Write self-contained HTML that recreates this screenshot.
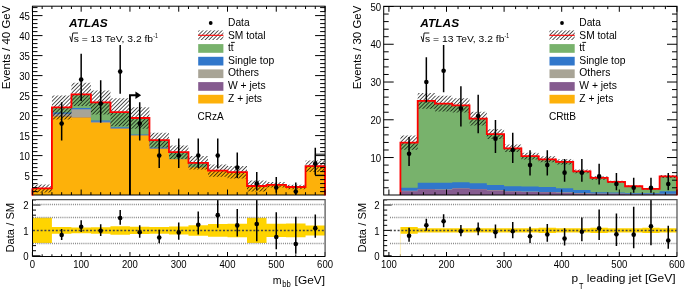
<!DOCTYPE html><html><head><meta charset="utf-8"><style>html,body{margin:0;padding:0;background:#fff;width:685px;height:292px;overflow:hidden}svg{display:block;will-change:transform}text{font-family:"Liberation Sans",sans-serif;fill:#000}</style></head><body>
<svg width="685" height="292" viewBox="0 0 685 292">
<defs><pattern id="hatch" patternUnits="userSpaceOnUse" width="2.7" height="2.7" patternTransform="rotate(45)"><line x1="0" y1="-1" x2="0" y2="4" stroke="#000" stroke-width="1.3"/></pattern></defs>
<rect width="685" height="292" fill="#fff"/>
<clipPath id="cl"><rect x="32.5" y="6.2" width="292.6" height="188.8"/></clipPath>
<clipPath id="clr"><rect x="32.5" y="199.6" width="292.6" height="56.9"/></clipPath>
<g clip-path="url(#cl)">
<path d="M32.4 195.6L32.4 188.4L51.91 188.4L51.91 107.4L71.42 107.4L71.42 94.4L90.93 94.4L90.93 102.4L110.44 102.4L110.44 112.2L129.95 112.2L129.95 118L149.46 118L149.46 140.2L168.97 140.2L168.97 152.2L188.48 152.2L188.48 162.8L207.99 162.8L207.99 170.6L227.5 170.6L227.5 172.2L247.01 172.2L247.01 186L266.52 186L266.52 184.8L286.03 184.8L286.03 187L305.54 187L305.54 166.2L325.05 166.2L325.05 195.6L305.54 195.6L305.54 195.6L286.03 195.6L286.03 195.6L266.52 195.6L266.52 195.6L247.01 195.6L247.01 195.6L227.5 195.6L227.5 195.6L207.99 195.6L207.99 195.6L188.48 195.6L188.48 195.6L168.97 195.6L168.97 195.6L149.46 195.6L149.46 195.6L129.95 195.6L129.95 195.6L110.44 195.6L110.44 195.6L90.93 195.6L90.93 195.6L71.42 195.6L71.42 195.6L51.91 195.6L51.91 195.6L32.4 195.6Z" fill="#78B26C"/>
<path d="M32.4 195.6L32.4 188.4L51.91 188.4L51.91 112.4L71.42 112.4L71.42 108L90.93 108L90.93 120.6L110.44 120.6L110.44 127.2L129.95 127.2L129.95 134.4L149.46 134.4L149.46 147.6L168.97 147.6L168.97 159L188.48 159L188.48 167L207.99 167L207.99 170.8L227.5 170.8L227.5 172.2L247.01 172.2L247.01 186L266.52 186L266.52 184.8L286.03 184.8L286.03 187L305.54 187L305.54 166.2L325.05 166.2L325.05 195.6L305.54 195.6L305.54 195.6L286.03 195.6L286.03 195.6L266.52 195.6L266.52 195.6L247.01 195.6L247.01 195.6L227.5 195.6L227.5 195.6L207.99 195.6L207.99 195.6L188.48 195.6L188.48 195.6L168.97 195.6L168.97 195.6L149.46 195.6L149.46 195.6L129.95 195.6L129.95 195.6L110.44 195.6L110.44 195.6L90.93 195.6L90.93 195.6L71.42 195.6L71.42 195.6L51.91 195.6L51.91 195.6L32.4 195.6Z" fill="#3177CB"/>
<path d="M32.4 195.6L32.4 188.4L51.91 188.4L51.91 113.8L71.42 113.8L71.42 109.2L90.93 109.2L90.93 121.8L110.44 121.8L110.44 128.6L129.95 128.6L129.95 135.6L149.46 135.6L149.46 148.8L168.97 148.8L168.97 159.2L188.48 159.2L188.48 167.2L207.99 167.2L207.99 170.8L227.5 170.8L227.5 172.2L247.01 172.2L247.01 186L266.52 186L266.52 184.8L286.03 184.8L286.03 187L305.54 187L305.54 166.2L325.05 166.2L325.05 195.6L305.54 195.6L305.54 195.6L286.03 195.6L286.03 195.6L266.52 195.6L266.52 195.6L247.01 195.6L247.01 195.6L227.5 195.6L227.5 195.6L207.99 195.6L207.99 195.6L188.48 195.6L188.48 195.6L168.97 195.6L168.97 195.6L149.46 195.6L149.46 195.6L129.95 195.6L129.95 195.6L110.44 195.6L110.44 195.6L90.93 195.6L90.93 195.6L71.42 195.6L71.42 195.6L51.91 195.6L51.91 195.6L32.4 195.6Z" fill="#A8A496"/>
<path d="M32.4 195.6L32.4 188.4L51.91 188.4L51.91 116.4L71.42 116.4L71.42 117.6L90.93 117.6L90.93 122.8L110.44 122.8L110.44 128.8L129.95 128.8L129.95 135.6L149.46 135.6L149.46 148.8L168.97 148.8L168.97 159.2L188.48 159.2L188.48 167.2L207.99 167.2L207.99 170.8L227.5 170.8L227.5 172.2L247.01 172.2L247.01 186L266.52 186L266.52 184.8L286.03 184.8L286.03 187L305.54 187L305.54 166.2L325.05 166.2L325.05 195.6L305.54 195.6L305.54 195.6L286.03 195.6L286.03 195.6L266.52 195.6L266.52 195.6L247.01 195.6L247.01 195.6L227.5 195.6L227.5 195.6L207.99 195.6L207.99 195.6L188.48 195.6L188.48 195.6L168.97 195.6L168.97 195.6L149.46 195.6L149.46 195.6L129.95 195.6L129.95 195.6L110.44 195.6L110.44 195.6L90.93 195.6L90.93 195.6L71.42 195.6L71.42 195.6L51.91 195.6L51.91 195.6L32.4 195.6Z" fill="#855B8F"/>
<path d="M32.4 195.6L32.4 188.4L51.91 188.4L51.91 116.4L71.42 116.4L71.42 117.6L90.93 117.6L90.93 122.8L110.44 122.8L110.44 128.8L129.95 128.8L129.95 135.6L149.46 135.6L149.46 148.8L168.97 148.8L168.97 159.2L188.48 159.2L188.48 167.2L207.99 167.2L207.99 170.8L227.5 170.8L227.5 172.2L247.01 172.2L247.01 186L266.52 186L266.52 184.8L286.03 184.8L286.03 187L305.54 187L305.54 166.2L325.05 166.2L325.05 195.6L305.54 195.6L305.54 195.6L286.03 195.6L286.03 195.6L266.52 195.6L266.52 195.6L247.01 195.6L247.01 195.6L227.5 195.6L227.5 195.6L207.99 195.6L207.99 195.6L188.48 195.6L188.48 195.6L168.97 195.6L168.97 195.6L149.46 195.6L149.46 195.6L129.95 195.6L129.95 195.6L110.44 195.6L110.44 195.6L90.93 195.6L90.93 195.6L71.42 195.6L71.42 195.6L51.91 195.6L51.91 195.6L32.4 195.6Z" fill="#FDB10A"/>
<path d="M32.4 192.4L32.4 184.4L51.91 184.4L51.91 95.4L71.42 95.4L71.42 82.8L90.93 82.8L90.93 90.4L110.44 90.4L110.44 98.2L129.95 98.2L129.95 107.2L149.46 107.2L149.46 132.8L168.97 132.8L168.97 145.4L188.48 145.4L188.48 156L207.99 156L207.99 164.4L227.5 164.4L227.5 166L247.01 166L247.01 180.6L266.52 180.6L266.52 182L286.03 182L286.03 184.68L305.54 184.68L305.54 160.4L325.05 160.4L325.05 172L305.54 172L305.54 189.32L286.03 189.32L286.03 187.6L266.52 187.6L266.52 191.4L247.01 191.4L247.01 178.4L227.5 178.4L227.5 176.8L207.99 176.8L207.99 169.6L188.48 169.6L188.48 159L168.97 159L168.97 147.6L149.46 147.6L149.46 128.8L129.95 128.8L129.95 126.2L110.44 126.2L110.44 114.4L90.93 114.4L90.93 106L71.42 106L71.42 119.4L51.91 119.4L51.91 192.4L32.4 192.4Z" fill="url(#hatch)"/>
<polyline points="32.4,195.6 32.4,188.4 51.91,188.4 51.91,107.4 71.42,107.4 71.42,94.4 90.93,94.4 90.93,102.4 110.44,102.4 110.44,112.2 129.95,112.2 129.95,118 149.46,118 149.46,140.2 168.97,140.2 168.97,152.2 188.48,152.2 188.48,162.8 207.99,162.8 207.99,170.6 227.5,170.6 227.5,172.2 247.01,172.2 247.01,186 266.52,186 266.52,184.8 286.03,184.8 286.03,187 305.54,187 305.54,166.2 325.05,166.2 325.05,195.6" fill="none" stroke="#FF0000" stroke-width="1.8"/>
<path d="M129.95 195 V95.3 H136.45" stroke="#000" stroke-width="1.9" fill="none"/>
<path d="M135.45 91.6 L141.15 95.3 L135.45 99 Z" fill="#000"/>
<path d="M325 154.2 H315.4 V175.2 H325" stroke="#000" stroke-width="0.9" fill="none"/>
<line x1="61.66" y1="102.32" x2="61.66" y2="140.41" stroke="#000" stroke-width="1.5"/>
<circle cx="61.66" cy="123.6" r="2.3" fill="#000"/>
<line x1="81.17" y1="53.81" x2="81.17" y2="101.02" stroke="#000" stroke-width="1.5"/>
<circle cx="81.17" cy="79.6" r="2.3" fill="#000"/>
<line x1="100.69" y1="80.14" x2="100.69" y2="122.64" stroke="#000" stroke-width="1.5"/>
<circle cx="100.69" cy="103.6" r="2.3" fill="#000"/>
<line x1="120.19" y1="45.09" x2="120.19" y2="93.75" stroke="#000" stroke-width="1.5"/>
<circle cx="120.19" cy="71.6" r="2.3" fill="#000"/>
<line x1="139.71" y1="102.32" x2="139.71" y2="140.41" stroke="#000" stroke-width="1.5"/>
<circle cx="139.71" cy="123.6" r="2.3" fill="#000"/>
<line x1="159.22" y1="138.53" x2="159.22" y2="168.03" stroke="#000" stroke-width="1.5"/>
<circle cx="159.22" cy="155.6" r="2.3" fill="#000"/>
<line x1="178.73" y1="138.53" x2="178.73" y2="168.03" stroke="#000" stroke-width="1.5"/>
<circle cx="178.73" cy="155.6" r="2.3" fill="#000"/>
<line x1="198.24" y1="138.53" x2="198.24" y2="168.03" stroke="#000" stroke-width="1.5"/>
<circle cx="198.24" cy="155.6" r="2.3" fill="#000"/>
<line x1="217.75" y1="138.53" x2="217.75" y2="168.03" stroke="#000" stroke-width="1.5"/>
<circle cx="217.75" cy="155.6" r="2.3" fill="#000"/>
<line x1="237.26" y1="152.52" x2="237.26" y2="177.93" stroke="#000" stroke-width="1.5"/>
<circle cx="237.26" cy="167.6" r="2.3" fill="#000"/>
<line x1="256.76" y1="171.93" x2="256.76" y2="190.13" stroke="#000" stroke-width="1.5"/>
<circle cx="256.76" cy="183.6" r="2.3" fill="#000"/>
<line x1="276.27" y1="177.05" x2="276.27" y2="192.77" stroke="#000" stroke-width="1.5"/>
<circle cx="276.27" cy="187.6" r="2.3" fill="#000"/>
<line x1="295.78" y1="182.4" x2="295.78" y2="194.91" stroke="#000" stroke-width="1.5"/>
<circle cx="295.78" cy="191.6" r="2.3" fill="#000"/>
<line x1="315.29" y1="147.82" x2="315.29" y2="174.67" stroke="#000" stroke-width="1.5"/>
<circle cx="315.29" cy="163.6" r="2.3" fill="#000"/>
</g>
<rect x="32.5" y="6.2" width="292.6" height="188.8" fill="none" stroke="#000" stroke-width="1"/>
<polyline points="32.4,195.6 32.4,188.4" fill="none" stroke="#FF0000" stroke-width="1.8"/>
<polyline points="325.05,166.2 325.05,195.6" fill="none" stroke="#FF0000" stroke-width="1.6"/>
<path d="M32.5 191.6h5 M325.1 191.6h-5 M32.5 187.6h5 M325.1 187.6h-5 M32.5 183.6h5 M325.1 183.6h-5 M32.5 179.6h5 M325.1 179.6h-5 M32.5 175.6h10 M325.1 175.6h-10 M32.5 171.6h5 M325.1 171.6h-5 M32.5 167.6h5 M325.1 167.6h-5 M32.5 163.6h5 M325.1 163.6h-5 M32.5 159.6h5 M325.1 159.6h-5 M32.5 155.6h10 M325.1 155.6h-10 M32.5 151.6h5 M325.1 151.6h-5 M32.5 147.6h5 M325.1 147.6h-5 M32.5 143.6h5 M325.1 143.6h-5 M32.5 139.6h5 M325.1 139.6h-5 M32.5 135.6h10 M325.1 135.6h-10 M32.5 131.6h5 M325.1 131.6h-5 M32.5 127.6h5 M325.1 127.6h-5 M32.5 123.6h5 M325.1 123.6h-5 M32.5 119.6h5 M325.1 119.6h-5 M32.5 115.6h10 M325.1 115.6h-10 M32.5 111.6h5 M325.1 111.6h-5 M32.5 107.6h5 M325.1 107.6h-5 M32.5 103.6h5 M325.1 103.6h-5 M32.5 99.6h5 M325.1 99.6h-5 M32.5 95.6h10 M325.1 95.6h-10 M32.5 91.6h5 M325.1 91.6h-5 M32.5 87.6h5 M325.1 87.6h-5 M32.5 83.6h5 M325.1 83.6h-5 M32.5 79.6h5 M325.1 79.6h-5 M32.5 75.6h10 M325.1 75.6h-10 M32.5 71.6h5 M325.1 71.6h-5 M32.5 67.6h5 M325.1 67.6h-5 M32.5 63.6h5 M325.1 63.6h-5 M32.5 59.6h5 M325.1 59.6h-5 M32.5 55.6h10 M325.1 55.6h-10 M32.5 51.6h5 M325.1 51.6h-5 M32.5 47.6h5 M325.1 47.6h-5 M32.5 43.6h5 M325.1 43.6h-5 M32.5 39.6h5 M325.1 39.6h-5 M32.5 35.6h10 M325.1 35.6h-10 M32.5 31.6h5 M325.1 31.6h-5 M32.5 27.6h5 M325.1 27.6h-5 M32.5 23.6h5 M325.1 23.6h-5 M32.5 19.6h5 M325.1 19.6h-5 M32.5 15.6h10 M325.1 15.6h-10 M32.5 11.6h5 M325.1 11.6h-5 M32.5 7.6h5 M325.1 7.6h-5 M32.4 195v-5.5 M32.4 6.2v5.5 M32.4 256.5v-4.5 M42.16 195v-2.8 M42.16 6.2v2.8 M42.16 256.5v-2.2 M51.91 195v-2.8 M51.91 6.2v2.8 M51.91 256.5v-2.2 M61.66 195v-2.8 M61.66 6.2v2.8 M61.66 256.5v-2.2 M71.42 195v-2.8 M71.42 6.2v2.8 M71.42 256.5v-2.2 M81.17 195v-5.5 M81.17 6.2v5.5 M81.17 256.5v-4.5 M90.93 195v-2.8 M90.93 6.2v2.8 M90.93 256.5v-2.2 M100.69 195v-2.8 M100.69 6.2v2.8 M100.69 256.5v-2.2 M110.44 195v-2.8 M110.44 6.2v2.8 M110.44 256.5v-2.2 M120.19 195v-2.8 M120.19 6.2v2.8 M120.19 256.5v-2.2 M129.95 195v-5.5 M129.95 6.2v5.5 M129.95 256.5v-4.5 M139.71 195v-2.8 M139.71 6.2v2.8 M139.71 256.5v-2.2 M149.46 195v-2.8 M149.46 6.2v2.8 M149.46 256.5v-2.2 M159.22 195v-2.8 M159.22 6.2v2.8 M159.22 256.5v-2.2 M168.97 195v-2.8 M168.97 6.2v2.8 M168.97 256.5v-2.2 M178.73 195v-5.5 M178.73 6.2v5.5 M178.73 256.5v-4.5 M188.48 195v-2.8 M188.48 6.2v2.8 M188.48 256.5v-2.2 M198.24 195v-2.8 M198.24 6.2v2.8 M198.24 256.5v-2.2 M207.99 195v-2.8 M207.99 6.2v2.8 M207.99 256.5v-2.2 M217.75 195v-2.8 M217.75 6.2v2.8 M217.75 256.5v-2.2 M227.5 195v-5.5 M227.5 6.2v5.5 M227.5 256.5v-4.5 M237.26 195v-2.8 M237.26 6.2v2.8 M237.26 256.5v-2.2 M247.01 195v-2.8 M247.01 6.2v2.8 M247.01 256.5v-2.2 M256.76 195v-2.8 M256.76 6.2v2.8 M256.76 256.5v-2.2 M266.52 195v-2.8 M266.52 6.2v2.8 M266.52 256.5v-2.2 M276.27 195v-5.5 M276.27 6.2v5.5 M276.27 256.5v-4.5 M286.03 195v-2.8 M286.03 6.2v2.8 M286.03 256.5v-2.2 M295.78 195v-2.8 M295.78 6.2v2.8 M295.78 256.5v-2.2 M305.54 195v-2.8 M305.54 6.2v2.8 M305.54 256.5v-2.2 M315.29 195v-2.8 M315.29 6.2v2.8 M315.29 256.5v-2.2 M325.05 195v-5.5 M325.05 6.2v5.5 M325.05 256.5v-4.5 M32.5 255.8h8 M32.5 250.72h3.5 M32.5 245.64h3.5 M32.5 240.56h3.5 M32.5 235.48h3.5 M32.5 230.4h8 M32.5 225.32h3.5 M32.5 220.24h3.5 M32.5 215.16h3.5 M32.5 210.08h3.5 M32.5 205h8 M32.5 199.92h3.5" stroke="#000" stroke-width="1" fill="none"/>
<text x="29.9" y="179.7" font-size="10" text-anchor="end" textLength="5.35" lengthAdjust="spacingAndGlyphs">5</text>
<text x="29.9" y="159.7" font-size="10" text-anchor="end" textLength="10.7" lengthAdjust="spacingAndGlyphs">10</text>
<text x="29.9" y="139.7" font-size="10" text-anchor="end" textLength="10.7" lengthAdjust="spacingAndGlyphs">15</text>
<text x="29.9" y="119.7" font-size="10" text-anchor="end" textLength="10.7" lengthAdjust="spacingAndGlyphs">20</text>
<text x="29.9" y="99.7" font-size="10" text-anchor="end" textLength="10.7" lengthAdjust="spacingAndGlyphs">25</text>
<text x="29.9" y="79.7" font-size="10" text-anchor="end" textLength="10.7" lengthAdjust="spacingAndGlyphs">30</text>
<text x="29.9" y="59.7" font-size="10" text-anchor="end" textLength="10.7" lengthAdjust="spacingAndGlyphs">35</text>
<text x="29.9" y="39.7" font-size="10" text-anchor="end" textLength="10.7" lengthAdjust="spacingAndGlyphs">40</text>
<text x="29.9" y="19.7" font-size="10" text-anchor="end" textLength="10.7" lengthAdjust="spacingAndGlyphs">45</text>
<g clip-path="url(#clr)">
<path d="M32.4 243.1L32.4 217.7L51.91 217.7L51.91 226.94L71.42 226.94L71.42 227.49L90.93 227.49L90.93 227.13L110.44 227.13L110.44 226.14L129.95 226.14L129.95 226.86L149.46 226.86L149.46 227.01L168.97 227.01L168.97 226.42L188.48 226.42L188.48 225.13L207.99 225.13L207.99 224.1L227.5 224.1L227.5 223.67L247.01 223.67L247.01 217.7L266.52 217.7L266.52 223.81L286.03 223.81L286.03 223.55L305.54 223.55L305.54 225.39L325.05 225.39L325.05 235.41L305.54 235.41L305.54 237.25L286.03 237.25L286.03 236.99L266.52 236.99L266.52 243.1L247.01 243.1L247.01 237.13L227.5 237.13L227.5 236.7L207.99 236.7L207.99 235.67L188.48 235.67L188.48 234.38L168.97 234.38L168.97 233.79L149.46 233.79L149.46 233.94L129.95 233.94L129.95 234.66L110.44 234.66L110.44 233.67L90.93 233.67L90.93 233.31L71.42 233.31L71.42 233.86L51.91 233.86L51.91 243.1L32.4 243.1Z" fill="#FFD400"/>
<line x1="33" y1="243.5" x2="325.1" y2="243.5" stroke="#8a8a8a" stroke-width="1.6" stroke-dasharray="1,1.1"/>
<line x1="33" y1="217.5" x2="325.1" y2="217.5" stroke="#8a8a8a" stroke-width="1.6" stroke-dasharray="1,1.1"/>
<line x1="33" y1="204.5" x2="325.1" y2="204.5" stroke="#8a8a8a" stroke-width="1.6" stroke-dasharray="1,1.1"/>
<line x1="33" y1="230.5" x2="325.1" y2="230.5" stroke="#444" stroke-width="1.3" stroke-dasharray="2,1.8"/>
<line x1="61.66" y1="228.94" x2="61.66" y2="239.91" stroke="#000" stroke-width="1.5"/>
<circle cx="61.66" cy="235.07" r="2.3" fill="#000"/>
<line x1="81.17" y1="220.21" x2="81.17" y2="232.06" stroke="#000" stroke-width="1.5"/>
<circle cx="81.17" cy="226.69" r="2.3" fill="#000"/>
<line x1="100.69" y1="224.33" x2="100.69" y2="235.92" stroke="#000" stroke-width="1.5"/>
<circle cx="100.69" cy="230.73" r="2.3" fill="#000"/>
<line x1="120.19" y1="209.96" x2="120.19" y2="224.78" stroke="#000" stroke-width="1.5"/>
<circle cx="120.19" cy="218.04" r="2.3" fill="#000"/>
<line x1="139.71" y1="225.27" x2="139.71" y2="237.74" stroke="#000" stroke-width="1.5"/>
<circle cx="139.71" cy="232.23" r="2.3" fill="#000"/>
<line x1="159.22" y1="229.64" x2="159.22" y2="243.16" stroke="#000" stroke-width="1.5"/>
<circle cx="159.22" cy="237.46" r="2.3" fill="#000"/>
<line x1="178.73" y1="222.4" x2="178.73" y2="239.67" stroke="#000" stroke-width="1.5"/>
<circle cx="178.73" cy="232.39" r="2.3" fill="#000"/>
<line x1="198.24" y1="211.61" x2="198.24" y2="234.45" stroke="#000" stroke-width="1.5"/>
<circle cx="198.24" cy="224.82" r="2.3" fill="#000"/>
<line x1="217.75" y1="197.82" x2="217.75" y2="227.79" stroke="#000" stroke-width="1.5"/>
<circle cx="217.75" cy="215.16" r="2.3" fill="#000"/>
<line x1="237.26" y1="209.04" x2="237.26" y2="236.62" stroke="#000" stroke-width="1.5"/>
<circle cx="237.26" cy="225.41" r="2.3" fill="#000"/>
<line x1="256.76" y1="193.17" x2="256.76" y2="241.33" stroke="#000" stroke-width="1.5"/>
<circle cx="256.76" cy="224.05" r="2.3" fill="#000"/>
<line x1="276.27" y1="212.17" x2="276.27" y2="249.14" stroke="#000" stroke-width="1.5"/>
<circle cx="276.27" cy="236.99" r="2.3" fill="#000"/>
<line x1="295.78" y1="216.82" x2="295.78" y2="253.76" stroke="#000" stroke-width="1.5"/>
<circle cx="295.78" cy="243.99" r="2.3" fill="#000"/>
<line x1="315.29" y1="214.52" x2="315.29" y2="237.72" stroke="#000" stroke-width="1.5"/>
<circle cx="315.29" cy="228.15" r="2.3" fill="#000"/>
</g>
<path d="M32.5 199.6H325.1V256.5" stroke="#5a5a5a" stroke-width="1.3" fill="none"/>
<path d="M32.5 199.6V256.5H325.1" stroke="#000" stroke-width="1" fill="none"/>
<text x="28.5" y="259.9" font-size="10" text-anchor="end" textLength="5.35" lengthAdjust="spacingAndGlyphs">0</text>
<text x="28.5" y="234.5" font-size="10" text-anchor="end" textLength="5.35" lengthAdjust="spacingAndGlyphs">1</text>
<text x="28.5" y="209.1" font-size="10" text-anchor="end" textLength="5.35" lengthAdjust="spacingAndGlyphs">2</text>
<text x="32.4" y="267.9" font-size="10" text-anchor="middle" textLength="5.3" lengthAdjust="spacingAndGlyphs">0</text>
<text x="81.17" y="267.9" font-size="10" text-anchor="middle" textLength="15.9" lengthAdjust="spacingAndGlyphs">100</text>
<text x="129.95" y="267.9" font-size="10" text-anchor="middle" textLength="15.9" lengthAdjust="spacingAndGlyphs">200</text>
<text x="178.73" y="267.9" font-size="10" text-anchor="middle" textLength="15.9" lengthAdjust="spacingAndGlyphs">300</text>
<text x="227.5" y="267.9" font-size="10" text-anchor="middle" textLength="15.9" lengthAdjust="spacingAndGlyphs">400</text>
<text x="276.27" y="267.9" font-size="10" text-anchor="middle" textLength="15.9" lengthAdjust="spacingAndGlyphs">500</text>
<text x="325.05" y="267.9" font-size="10" text-anchor="middle" textLength="15.9" lengthAdjust="spacingAndGlyphs">600</text>
<text x="10" y="89.2" font-size="11" textLength="83.6" lengthAdjust="spacingAndGlyphs" transform="rotate(-90 10 89.2)">Events / 40 GeV</text>
<text x="14.3" y="252.6" font-size="10.6" textLength="49.8" lengthAdjust="spacingAndGlyphs" transform="rotate(-90 14.3 252.6)">Data / SM</text>
<text x="69" y="27" font-size="10.2" textLength="38.8" lengthAdjust="spacingAndGlyphs" font-weight="bold" font-style="italic">ATLAS</text>
<path d="M69.8 36.3 L71.7 41.9 L72.8 33 H78" stroke="#000" stroke-width="0.9" fill="none"/>
<text x="73.7" y="41.9" font-size="9.9" textLength="79.4" lengthAdjust="spacingAndGlyphs">s = 13 TeV, 3.2 fb</text>
<text x="153.3" y="37.8" font-size="6.8" textLength="4.6" lengthAdjust="spacingAndGlyphs">-1</text>
<circle cx="210.7" cy="23.0" r="1.9" fill="#000"/>
<text x="228" y="25.9" font-size="10.3" textLength="21.6" lengthAdjust="spacingAndGlyphs">Data</text>
<rect x="198.2" y="30.4" width="25.2" height="9.6" fill="url(#hatch)"/>
<line x1="198.2" y1="35.3" x2="223.4" y2="35.3" stroke="#FF0000" stroke-width="1.1"/>
<text x="228" y="38.7" font-size="10.3" textLength="37.6" lengthAdjust="spacingAndGlyphs">SM total</text>
<rect x="198.2" y="44.1" width="25.2" height="8.7" fill="#78B26C"/>
<text x="228" y="51.1" font-size="10.3" textLength="5.6" lengthAdjust="spacingAndGlyphs">tt</text>
<line x1="231" y1="42.4" x2="234.8" y2="42.4" stroke="#000" stroke-width="0.9"/>
<rect x="198.2" y="56.8" width="25.2" height="8.7" fill="#3177CB"/>
<text x="228" y="63.8" font-size="10.3" textLength="46.2" lengthAdjust="spacingAndGlyphs">Single top</text>
<rect x="198.2" y="69.4" width="25.2" height="8.7" fill="#A8A496"/>
<text x="228" y="76.4" font-size="10.3" textLength="31" lengthAdjust="spacingAndGlyphs">Others</text>
<rect x="198.2" y="82.1" width="25.2" height="8.7" fill="#855B8F"/>
<text x="228" y="89.1" font-size="10.3" textLength="37.6" lengthAdjust="spacingAndGlyphs">W + jets</text>
<rect x="198.2" y="94.8" width="25.2" height="8.7" fill="#FDB10A"/>
<text x="228" y="101.8" font-size="10.3" textLength="34" lengthAdjust="spacingAndGlyphs">Z + jets</text>
<text x="197.6" y="120.3" font-size="10.3" textLength="26.2" lengthAdjust="spacingAndGlyphs">CRzA</text>
<clipPath id="cr"><rect x="383.7" y="6.3" width="293.3" height="188.7"/></clipPath>
<clipPath id="crr"><rect x="383.7" y="199.6" width="293.3" height="56.9"/></clipPath>
<g clip-path="url(#cr)">
<path d="M400.42 195.3L400.42 142.59L417.7 142.59L417.7 100.9L434.98 100.9L434.98 103.69L452.26 103.69L452.26 105.43L469.54 105.43L469.54 118.65L486.82 118.65L486.82 134.13L504.1 134.13L504.1 148.29L521.38 148.29L521.38 156.03L538.66 156.03L538.66 159.31L555.94 159.31L555.94 161.88L573.22 161.88L573.22 171.32L590.5 171.32L590.5 177.93L607.78 177.93L607.78 181.9L625.06 181.9L625.06 186.24L642.34 186.24L642.34 188.81L659.62 188.81L659.62 176.42L676.9 176.42L676.9 195.3L659.62 195.3L659.62 195.3L642.34 195.3L642.34 195.3L625.06 195.3L625.06 195.3L607.78 195.3L607.78 195.3L590.5 195.3L590.5 195.3L573.22 195.3L573.22 195.3L555.94 195.3L555.94 195.3L538.66 195.3L538.66 195.3L521.38 195.3L521.38 195.3L504.1 195.3L504.1 195.3L486.82 195.3L486.82 195.3L469.54 195.3L469.54 195.3L452.26 195.3L452.26 195.3L434.98 195.3L434.98 195.3L417.7 195.3L417.7 195.3L400.42 195.3Z" fill="#78B26C"/>
<path d="M400.42 195.3L400.42 187.75L417.7 187.75L417.7 182.84L434.98 182.84L434.98 182.65L452.26 182.65L452.26 182.27L469.54 182.27L469.54 183.22L486.82 183.22L486.82 185.1L504.1 185.1L504.1 186.24L521.38 186.24L521.38 186.62L538.66 186.62L538.66 186.99L555.94 186.99L555.94 188.13L573.22 188.13L573.22 190.01L590.5 190.01L590.5 192.28L607.78 192.28L607.78 192.47L625.06 192.47L625.06 193.03L642.34 193.03L642.34 193.03L659.62 193.03L659.62 191.34L676.9 191.34L676.9 195.3L659.62 195.3L659.62 195.3L642.34 195.3L642.34 195.3L625.06 195.3L625.06 195.3L607.78 195.3L607.78 195.3L590.5 195.3L590.5 195.3L573.22 195.3L573.22 195.3L555.94 195.3L555.94 195.3L538.66 195.3L538.66 195.3L521.38 195.3L521.38 195.3L504.1 195.3L504.1 195.3L486.82 195.3L486.82 195.3L469.54 195.3L469.54 195.3L452.26 195.3L452.26 195.3L434.98 195.3L434.98 195.3L417.7 195.3L417.7 195.3L400.42 195.3Z" fill="#3177CB"/>
<path d="M400.42 195.3L400.42 190.77L417.7 190.77L417.7 188.88L434.98 188.88L434.98 189.26L452.26 189.26L452.26 188.13L469.54 188.13L469.54 188.88L486.82 188.88L486.82 190.01L504.1 190.01L504.1 191.15L521.38 191.15L521.38 191.52L538.66 191.52L538.66 191.9L555.94 191.9L555.94 192.28L573.22 192.28L573.22 193.03L590.5 193.03L590.5 193.41L607.78 193.41L607.78 193.41L625.06 193.41L625.06 193.79L642.34 193.79L642.34 193.79L659.62 193.79L659.62 193.79L676.9 193.79L676.9 195.3L659.62 195.3L659.62 195.3L642.34 195.3L642.34 195.3L625.06 195.3L625.06 195.3L607.78 195.3L607.78 195.3L590.5 195.3L590.5 195.3L573.22 195.3L573.22 195.3L555.94 195.3L555.94 195.3L538.66 195.3L538.66 195.3L521.38 195.3L521.38 195.3L504.1 195.3L504.1 195.3L486.82 195.3L486.82 195.3L469.54 195.3L469.54 195.3L452.26 195.3L452.26 195.3L434.98 195.3L434.98 195.3L417.7 195.3L417.7 195.3L400.42 195.3Z" fill="#A8A496"/>
<path d="M400.42 195.3L400.42 191.15L417.7 191.15L417.7 189.26L434.98 189.26L434.98 189.64L452.26 189.64L452.26 188.5L469.54 188.5L469.54 189.26L486.82 189.26L486.82 190.39L504.1 190.39L504.1 191.52L521.38 191.52L521.38 191.9L538.66 191.9L538.66 192.28L555.94 192.28L555.94 192.66L573.22 192.66L573.22 193.41L590.5 193.41L590.5 193.79L607.78 193.79L607.78 193.79L625.06 193.79L625.06 194.17L642.34 194.17L642.34 194.17L659.62 194.17L659.62 194.17L676.9 194.17L676.9 195.3L659.62 195.3L659.62 195.3L642.34 195.3L642.34 195.3L625.06 195.3L625.06 195.3L607.78 195.3L607.78 195.3L590.5 195.3L590.5 195.3L573.22 195.3L573.22 195.3L555.94 195.3L555.94 195.3L538.66 195.3L538.66 195.3L521.38 195.3L521.38 195.3L504.1 195.3L504.1 195.3L486.82 195.3L486.82 195.3L469.54 195.3L469.54 195.3L452.26 195.3L452.26 195.3L434.98 195.3L434.98 195.3L417.7 195.3L417.7 195.3L400.42 195.3Z" fill="#855B8F"/>
<path d="M400.42 195.3L400.42 195.3L417.7 195.3L417.7 195.3L434.98 195.3L434.98 195.3L452.26 195.3L452.26 195.3L469.54 195.3L469.54 195.3L486.82 195.3L486.82 195.3L504.1 195.3L504.1 195.3L521.38 195.3L521.38 195.3L538.66 195.3L538.66 195.3L555.94 195.3L555.94 195.3L573.22 195.3L573.22 195.3L590.5 195.3L590.5 195.3L607.78 195.3L607.78 195.3L625.06 195.3L625.06 195.3L642.34 195.3L642.34 195.3L659.62 195.3L659.62 195.3L676.9 195.3L676.9 195.3L659.62 195.3L659.62 195.3L642.34 195.3L642.34 195.3L625.06 195.3L625.06 195.3L607.78 195.3L607.78 195.3L590.5 195.3L590.5 195.3L573.22 195.3L573.22 195.3L555.94 195.3L555.94 195.3L538.66 195.3L538.66 195.3L521.38 195.3L521.38 195.3L504.1 195.3L504.1 195.3L486.82 195.3L486.82 195.3L469.54 195.3L469.54 195.3L452.26 195.3L452.26 195.3L434.98 195.3L434.98 195.3L417.7 195.3L417.7 195.3L400.42 195.3Z" fill="#FDB10A"/>
<path d="M400.42 149.76L400.42 135.41L417.7 135.41L417.7 92.97L434.98 92.97L434.98 95.76L452.26 95.76L452.26 98.26L469.54 98.26L469.54 111.85L486.82 111.85L486.82 129.22L504.1 129.22L504.1 144.51L521.38 144.51L521.38 152.63L538.66 152.63L538.66 156.29L555.94 156.29L555.94 159.24L573.22 159.24L573.22 169.43L590.5 169.43L590.5 176.23L607.78 176.23L607.78 180.76L625.06 180.76L625.06 185.48L642.34 185.48L642.34 188.05L659.62 188.05L659.62 174.91L676.9 174.91L676.9 177.93L659.62 177.93L659.62 189.56L642.34 189.56L642.34 186.99L625.06 186.99L625.06 183.03L607.78 183.03L607.78 179.63L590.5 179.63L590.5 173.21L573.22 173.21L573.22 164.53L555.94 164.53L555.94 162.34L538.66 162.34L538.66 159.43L521.38 159.43L521.38 152.06L504.1 152.06L504.1 139.04L486.82 139.04L486.82 125.44L469.54 125.44L469.54 112.61L452.26 112.61L452.26 111.62L434.98 111.62L434.98 108.83L417.7 108.83L417.7 149.76L400.42 149.76Z" fill="url(#hatch)"/>
<polyline points="400.42,195.3 400.42,142.59 417.7,142.59 417.7,100.9 434.98,100.9 434.98,103.69 452.26,103.69 452.26,105.43 469.54,105.43 469.54,118.65 486.82,118.65 486.82,134.13 504.1,134.13 504.1,148.29 521.38,148.29 521.38,156.03 538.66,156.03 538.66,159.31 555.94,159.31 555.94,161.88 573.22,161.88 573.22,171.32 590.5,171.32 590.5,177.93 607.78,177.93 607.78,181.9 625.06,181.9 625.06,186.24 642.34,186.24 642.34,188.81 659.62,188.81 659.62,176.42 676.9,176.42 676.9,195.3" fill="none" stroke="#FF0000" stroke-width="1.8"/>
<line x1="409.06" y1="137.09" x2="409.06" y2="166.09" stroke="#000" stroke-width="1.5"/>
<circle cx="409.06" cy="153.76" r="2.3" fill="#000"/>
<line x1="426.34" y1="57.33" x2="426.34" y2="102.59" stroke="#000" stroke-width="1.5"/>
<circle cx="426.34" cy="82.02" r="2.3" fill="#000"/>
<line x1="443.62" y1="45.01" x2="443.62" y2="92.27" stroke="#000" stroke-width="1.5"/>
<circle cx="443.62" cy="70.69" r="2.3" fill="#000"/>
<line x1="460.9" y1="86.3" x2="460.9" y2="126.43" stroke="#000" stroke-width="1.5"/>
<circle cx="460.9" cy="108.45" r="2.3" fill="#000"/>
<line x1="478.18" y1="94.65" x2="478.18" y2="133.17" stroke="#000" stroke-width="1.5"/>
<circle cx="478.18" cy="116" r="2.3" fill="#000"/>
<line x1="495.46" y1="119.94" x2="495.46" y2="153.12" stroke="#000" stroke-width="1.5"/>
<circle cx="495.46" cy="138.66" r="2.3" fill="#000"/>
<line x1="512.74" y1="132.77" x2="512.74" y2="162.88" stroke="#000" stroke-width="1.5"/>
<circle cx="512.74" cy="149.99" r="2.3" fill="#000"/>
<line x1="530.02" y1="150.2" x2="530.02" y2="175.55" stroke="#000" stroke-width="1.5"/>
<circle cx="530.02" cy="165.09" r="2.3" fill="#000"/>
<line x1="547.3" y1="150.2" x2="547.3" y2="175.55" stroke="#000" stroke-width="1.5"/>
<circle cx="547.3" cy="165.09" r="2.3" fill="#000"/>
<line x1="564.58" y1="159.11" x2="564.58" y2="181.63" stroke="#000" stroke-width="1.5"/>
<circle cx="564.58" cy="172.64" r="2.3" fill="#000"/>
<line x1="581.86" y1="159.11" x2="581.86" y2="181.63" stroke="#000" stroke-width="1.5"/>
<circle cx="581.86" cy="172.64" r="2.3" fill="#000"/>
<line x1="599.14" y1="163.65" x2="599.14" y2="184.57" stroke="#000" stroke-width="1.5"/>
<circle cx="599.14" cy="176.42" r="2.3" fill="#000"/>
<line x1="616.42" y1="172.95" x2="616.42" y2="190.14" stroke="#000" stroke-width="1.5"/>
<circle cx="616.42" cy="183.97" r="2.3" fill="#000"/>
<line x1="633.7" y1="177.79" x2="633.7" y2="192.63" stroke="#000" stroke-width="1.5"/>
<circle cx="633.7" cy="187.75" r="2.3" fill="#000"/>
<line x1="650.98" y1="177.79" x2="650.98" y2="192.63" stroke="#000" stroke-width="1.5"/>
<circle cx="650.98" cy="187.75" r="2.3" fill="#000"/>
<line x1="668.26" y1="172.95" x2="668.26" y2="190.14" stroke="#000" stroke-width="1.5"/>
<circle cx="668.26" cy="183.97" r="2.3" fill="#000"/>
</g>
<rect x="383.7" y="6.3" width="293.3" height="188.7" fill="none" stroke="#000" stroke-width="1"/>
<polyline points="676.9,176.42 676.9,195.3" fill="none" stroke="#FF0000" stroke-width="1.6"/>
<path d="M383.7 187.75h5 M677 187.75h-5 M383.7 180.2h5 M677 180.2h-5 M383.7 172.64h5 M677 172.64h-5 M383.7 165.09h5 M677 165.09h-5 M383.7 157.54h10 M677 157.54h-10 M383.7 149.99h5 M677 149.99h-5 M383.7 142.44h5 M677 142.44h-5 M383.7 134.88h5 M677 134.88h-5 M383.7 127.33h5 M677 127.33h-5 M383.7 119.78h10 M677 119.78h-10 M383.7 112.23h5 M677 112.23h-5 M383.7 104.68h5 M677 104.68h-5 M383.7 97.12h5 M677 97.12h-5 M383.7 89.57h5 M677 89.57h-5 M383.7 82.02h10 M677 82.02h-10 M383.7 74.47h5 M677 74.47h-5 M383.7 66.92h5 M677 66.92h-5 M383.7 59.36h5 M677 59.36h-5 M383.7 51.81h5 M677 51.81h-5 M383.7 44.26h10 M677 44.26h-10 M383.7 36.71h5 M677 36.71h-5 M383.7 29.16h5 M677 29.16h-5 M383.7 21.6h5 M677 21.6h-5 M383.7 14.05h5 M677 14.05h-5 M383.7 6.5h10 M677 6.5h-10 M388.9 195v-5.5 M388.9 6.3v5.5 M388.9 256.5v-4.5 M400.42 195v-2.8 M400.42 6.3v2.8 M400.42 256.5v-2.2 M411.94 195v-2.8 M411.94 6.3v2.8 M411.94 256.5v-2.2 M423.46 195v-2.8 M423.46 6.3v2.8 M423.46 256.5v-2.2 M434.98 195v-2.8 M434.98 6.3v2.8 M434.98 256.5v-2.2 M446.5 195v-5.5 M446.5 6.3v5.5 M446.5 256.5v-4.5 M458.02 195v-2.8 M458.02 6.3v2.8 M458.02 256.5v-2.2 M469.54 195v-2.8 M469.54 6.3v2.8 M469.54 256.5v-2.2 M481.06 195v-2.8 M481.06 6.3v2.8 M481.06 256.5v-2.2 M492.58 195v-2.8 M492.58 6.3v2.8 M492.58 256.5v-2.2 M504.1 195v-5.5 M504.1 6.3v5.5 M504.1 256.5v-4.5 M515.62 195v-2.8 M515.62 6.3v2.8 M515.62 256.5v-2.2 M527.14 195v-2.8 M527.14 6.3v2.8 M527.14 256.5v-2.2 M538.66 195v-2.8 M538.66 6.3v2.8 M538.66 256.5v-2.2 M550.18 195v-2.8 M550.18 6.3v2.8 M550.18 256.5v-2.2 M561.7 195v-5.5 M561.7 6.3v5.5 M561.7 256.5v-4.5 M573.22 195v-2.8 M573.22 6.3v2.8 M573.22 256.5v-2.2 M584.74 195v-2.8 M584.74 6.3v2.8 M584.74 256.5v-2.2 M596.26 195v-2.8 M596.26 6.3v2.8 M596.26 256.5v-2.2 M607.78 195v-2.8 M607.78 6.3v2.8 M607.78 256.5v-2.2 M619.3 195v-5.5 M619.3 6.3v5.5 M619.3 256.5v-4.5 M630.82 195v-2.8 M630.82 6.3v2.8 M630.82 256.5v-2.2 M642.34 195v-2.8 M642.34 6.3v2.8 M642.34 256.5v-2.2 M653.86 195v-2.8 M653.86 6.3v2.8 M653.86 256.5v-2.2 M665.38 195v-2.8 M665.38 6.3v2.8 M665.38 256.5v-2.2 M676.9 195v-5.5 M676.9 6.3v5.5 M676.9 256.5v-4.5 M383.7 255.8h8 M383.7 250.72h3.5 M383.7 245.64h3.5 M383.7 240.56h3.5 M383.7 235.48h3.5 M383.7 230.4h8 M383.7 225.32h3.5 M383.7 220.24h3.5 M383.7 215.16h3.5 M383.7 210.08h3.5 M383.7 205h8 M383.7 199.92h3.5" stroke="#000" stroke-width="1" fill="none"/>
<text x="381.1" y="161.64" font-size="10" text-anchor="end" textLength="10.7" lengthAdjust="spacingAndGlyphs">10</text>
<text x="381.1" y="123.88" font-size="10" text-anchor="end" textLength="10.7" lengthAdjust="spacingAndGlyphs">20</text>
<text x="381.1" y="86.12" font-size="10" text-anchor="end" textLength="10.7" lengthAdjust="spacingAndGlyphs">30</text>
<text x="381.1" y="48.36" font-size="10" text-anchor="end" textLength="10.7" lengthAdjust="spacingAndGlyphs">40</text>
<text x="381.1" y="10.6" font-size="10" text-anchor="end" textLength="10.7" lengthAdjust="spacingAndGlyphs">50</text>
<g clip-path="url(#crr)">
<path d="M400.42 233.7L400.42 227.1L417.7 227.1L417.7 228.37L434.98 228.37L434.98 228.37L452.26 228.37L452.26 228.37L469.54 228.37L469.54 228.37L486.82 228.37L486.82 228.37L504.1 228.37L504.1 228.37L521.38 228.37L521.38 228.37L538.66 228.37L538.66 227.86L555.94 227.86L555.94 228.37L573.22 228.37L573.22 228.37L590.5 228.37L590.5 227.86L607.78 227.86L607.78 228.37L625.06 228.37L625.06 228.37L642.34 228.37L642.34 227.86L659.62 227.86L659.62 228.37L676.9 228.37L676.9 232.43L659.62 232.43L659.62 232.94L642.34 232.94L642.34 232.43L625.06 232.43L625.06 232.43L607.78 232.43L607.78 232.94L590.5 232.94L590.5 232.43L573.22 232.43L573.22 232.43L555.94 232.43L555.94 232.94L538.66 232.94L538.66 232.43L521.38 232.43L521.38 232.43L504.1 232.43L504.1 232.43L486.82 232.43L486.82 232.43L469.54 232.43L469.54 232.43L452.26 232.43L452.26 232.43L434.98 232.43L434.98 232.43L417.7 232.43L417.7 233.7L400.42 233.7Z" fill="#FFD400"/>
<line x1="400.42" y1="233.7" x2="400.42" y2="256.5" stroke="#FFEFA8" stroke-width="0.7"/>
<line x1="390" y1="243.5" x2="677" y2="243.5" stroke="#8a8a8a" stroke-width="1.6" stroke-dasharray="1,1.1"/>
<line x1="390" y1="217.5" x2="677" y2="217.5" stroke="#8a8a8a" stroke-width="1.6" stroke-dasharray="1,1.1"/>
<line x1="390" y1="204.5" x2="677" y2="204.5" stroke="#8a8a8a" stroke-width="1.6" stroke-dasharray="1,1.1"/>
<line x1="390" y1="230.5" x2="677" y2="230.5" stroke="#444" stroke-width="1.3" stroke-dasharray="2,1.8"/>
<line x1="409.06" y1="227.75" x2="409.06" y2="241.73" stroke="#000" stroke-width="1.5"/>
<circle cx="409.06" cy="235.79" r="2.3" fill="#000"/>
<line x1="426.34" y1="218.68" x2="426.34" y2="230.85" stroke="#000" stroke-width="1.5"/>
<circle cx="426.34" cy="225.32" r="2.3" fill="#000"/>
<line x1="443.62" y1="214.13" x2="443.62" y2="227.23" stroke="#000" stroke-width="1.5"/>
<circle cx="443.62" cy="221.25" r="2.3" fill="#000"/>
<line x1="460.9" y1="224.99" x2="460.9" y2="236.33" stroke="#000" stroke-width="1.5"/>
<circle cx="460.9" cy="231.25" r="2.3" fill="#000"/>
<line x1="478.18" y1="222.45" x2="478.18" y2="235.21" stroke="#000" stroke-width="1.5"/>
<circle cx="478.18" cy="229.52" r="2.3" fill="#000"/>
<line x1="495.46" y1="224.51" x2="495.46" y2="238.29" stroke="#000" stroke-width="1.5"/>
<circle cx="495.46" cy="232.28" r="2.3" fill="#000"/>
<line x1="512.74" y1="222.02" x2="512.74" y2="238.29" stroke="#000" stroke-width="1.5"/>
<circle cx="512.74" cy="231.32" r="2.3" fill="#000"/>
<line x1="530.02" y1="226.63" x2="530.02" y2="243.02" stroke="#000" stroke-width="1.5"/>
<circle cx="530.02" cy="236.26" r="2.3" fill="#000"/>
<line x1="547.3" y1="223.96" x2="547.3" y2="241.86" stroke="#000" stroke-width="1.5"/>
<circle cx="547.3" cy="234.48" r="2.3" fill="#000"/>
<line x1="564.58" y1="228.29" x2="564.58" y2="245.41" stroke="#000" stroke-width="1.5"/>
<circle cx="564.58" cy="238.58" r="2.3" fill="#000"/>
<line x1="581.86" y1="217.47" x2="581.86" y2="241.32" stroke="#000" stroke-width="1.5"/>
<circle cx="581.86" cy="231.8" r="2.3" fill="#000"/>
<line x1="599.14" y1="209.51" x2="599.14" y2="240.12" stroke="#000" stroke-width="1.5"/>
<circle cx="599.14" cy="228.19" r="2.3" fill="#000"/>
<line x1="616.42" y1="213.46" x2="616.42" y2="246.02" stroke="#000" stroke-width="1.5"/>
<circle cx="616.42" cy="234.34" r="2.3" fill="#000"/>
<line x1="633.7" y1="206.72" x2="633.7" y2="248.31" stroke="#000" stroke-width="1.5"/>
<circle cx="633.7" cy="234.63" r="2.3" fill="#000"/>
<line x1="650.98" y1="187.31" x2="650.98" y2="245.34" stroke="#000" stroke-width="1.5"/>
<circle cx="650.98" cy="226.27" r="2.3" fill="#000"/>
<line x1="668.26" y1="225.74" x2="668.26" y2="248.85" stroke="#000" stroke-width="1.5"/>
<circle cx="668.26" cy="240.56" r="2.3" fill="#000"/>
</g>
<path d="M383.7 199.6H677V256.5" stroke="#5a5a5a" stroke-width="1.3" fill="none"/>
<path d="M383.7 199.6V256.5H677" stroke="#000" stroke-width="1" fill="none"/>
<text x="379.7" y="259.9" font-size="10" text-anchor="end" textLength="5.35" lengthAdjust="spacingAndGlyphs">0</text>
<text x="379.7" y="234.5" font-size="10" text-anchor="end" textLength="5.35" lengthAdjust="spacingAndGlyphs">1</text>
<text x="379.7" y="209.1" font-size="10" text-anchor="end" textLength="5.35" lengthAdjust="spacingAndGlyphs">2</text>
<text x="388.9" y="267.9" font-size="10" text-anchor="middle" textLength="15.9" lengthAdjust="spacingAndGlyphs">100</text>
<text x="446.5" y="267.9" font-size="10" text-anchor="middle" textLength="15.9" lengthAdjust="spacingAndGlyphs">200</text>
<text x="504.1" y="267.9" font-size="10" text-anchor="middle" textLength="15.9" lengthAdjust="spacingAndGlyphs">300</text>
<text x="561.7" y="267.9" font-size="10" text-anchor="middle" textLength="15.9" lengthAdjust="spacingAndGlyphs">400</text>
<text x="619.3" y="267.9" font-size="10" text-anchor="middle" textLength="15.9" lengthAdjust="spacingAndGlyphs">500</text>
<text x="676.9" y="267.9" font-size="10" text-anchor="middle" textLength="15.9" lengthAdjust="spacingAndGlyphs">600</text>
<text x="361.3" y="89.2" font-size="11" textLength="83.6" lengthAdjust="spacingAndGlyphs" transform="rotate(-90 361.3 89.2)">Events / 30 GeV</text>
<text x="365.6" y="252.6" font-size="10.6" textLength="49.8" lengthAdjust="spacingAndGlyphs" transform="rotate(-90 365.6 252.6)">Data / SM</text>
<text x="420.3" y="27" font-size="10.2" textLength="38.8" lengthAdjust="spacingAndGlyphs" font-weight="bold" font-style="italic">ATLAS</text>
<path d="M421.1 36.3 L423 41.9 L424.1 33 H429.3" stroke="#000" stroke-width="0.9" fill="none"/>
<text x="425" y="41.9" font-size="9.9" textLength="79.4" lengthAdjust="spacingAndGlyphs">s = 13 TeV, 3.2 fb</text>
<text x="504.6" y="37.8" font-size="6.8" textLength="4.6" lengthAdjust="spacingAndGlyphs">-1</text>
<circle cx="562" cy="23.0" r="1.9" fill="#000"/>
<text x="579.3" y="25.9" font-size="10.3" textLength="21.6" lengthAdjust="spacingAndGlyphs">Data</text>
<rect x="549.5" y="30.4" width="25.2" height="9.6" fill="url(#hatch)"/>
<line x1="549.5" y1="35.3" x2="574.7" y2="35.3" stroke="#FF0000" stroke-width="1.1"/>
<text x="579.3" y="38.7" font-size="10.3" textLength="37.6" lengthAdjust="spacingAndGlyphs">SM total</text>
<rect x="549.5" y="44.1" width="25.2" height="8.7" fill="#78B26C"/>
<text x="579.3" y="51.1" font-size="10.3" textLength="5.6" lengthAdjust="spacingAndGlyphs">tt</text>
<line x1="582.3" y1="42.4" x2="586.1" y2="42.4" stroke="#000" stroke-width="0.9"/>
<rect x="549.5" y="56.8" width="25.2" height="8.7" fill="#3177CB"/>
<text x="579.3" y="63.8" font-size="10.3" textLength="46.2" lengthAdjust="spacingAndGlyphs">Single top</text>
<rect x="549.5" y="69.4" width="25.2" height="8.7" fill="#A8A496"/>
<text x="579.3" y="76.4" font-size="10.3" textLength="31" lengthAdjust="spacingAndGlyphs">Others</text>
<rect x="549.5" y="82.1" width="25.2" height="8.7" fill="#855B8F"/>
<text x="579.3" y="89.1" font-size="10.3" textLength="37.6" lengthAdjust="spacingAndGlyphs">W + jets</text>
<rect x="549.5" y="94.8" width="25.2" height="8.7" fill="#FDB10A"/>
<text x="579.3" y="101.8" font-size="10.3" textLength="34" lengthAdjust="spacingAndGlyphs">Z + jets</text>
<text x="548.9" y="120.3" font-size="10.3" textLength="27" lengthAdjust="spacingAndGlyphs">CRttB</text>
<text x="272.8" y="283.8" font-size="11.6" textLength="8.8" lengthAdjust="spacingAndGlyphs">m</text>
<text x="282.2" y="287" font-size="8.2" textLength="8.6" lengthAdjust="spacingAndGlyphs">bb</text>
<text x="294.6" y="283.8" font-size="11.6" textLength="30.4" lengthAdjust="spacingAndGlyphs">[GeV]</text>
<text x="571.5" y="282.3" font-size="11.6" textLength="6.6" lengthAdjust="spacingAndGlyphs">p</text>
<text x="578.9" y="289.2" font-size="8.4" textLength="4.4" lengthAdjust="spacingAndGlyphs">T</text>
<text x="586.8" y="282.3" font-size="11.6" textLength="88.8" lengthAdjust="spacingAndGlyphs">leading jet [GeV]</text>
</svg></body></html>
